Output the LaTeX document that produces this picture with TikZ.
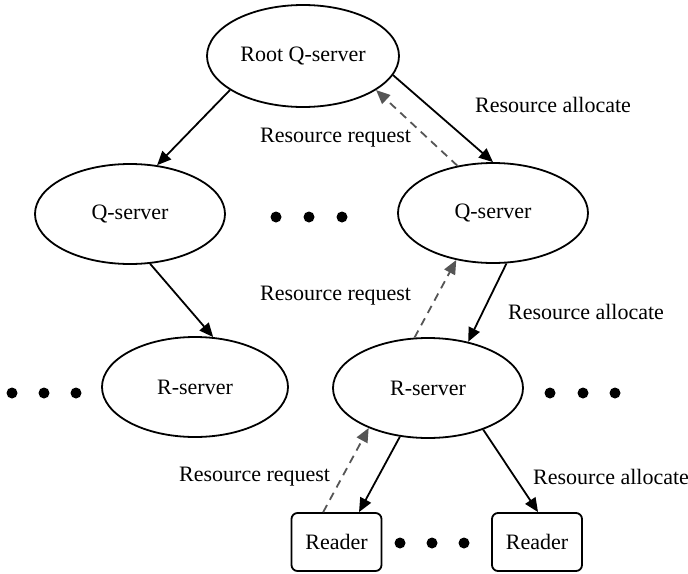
\documentclass[tikz,border=0pt]{standalone}
\usepackage{fontspec}
\setmainfont{Liberation Serif}
\usetikzlibrary{shapes.geometric,arrows.meta,calc}
\definecolor{reqgray}{HTML}{555555}
\begin{document}
\begin{tikzpicture}[x=1pt,y=-1pt,
  every node/.style={font=\fontsize{22}{26}\selectfont},
  srv/.style={ellipse,draw,line width=1.8pt,inner sep=0pt,minimum width=190pt,minimum height=100pt},
  rdr/.style={draw,rounded corners=6pt,line width=1.8pt,minimum width=90pt,minimum height=58pt,inner sep=0pt},
  alloc/.style={line width=1.8pt,-{Triangle[length=14pt,width=12pt]}},
  req/.style={line width=1.8pt,draw=reqgray,dash pattern=on 8pt off 6pt,-{Triangle[length=14pt,width=12pt,fill=reqgray]}},
  lbl/.style={anchor=west,inner sep=0pt},
  bigdot/.style={circle,fill,inner sep=0pt,minimum size=11pt}
]
\useasboundingbox (0,0) rectangle (688,573);

\node[srv,minimum width=192pt,minimum height=102pt] (root) at (303,56) {Root Q-server};
\node[srv] (q1) at (130,214) {Q-server};
\node[srv] (q2) at (493,213) {Q-server};
\node[srv,minimum width=186pt] (r1) at (195,387) {R-server};
\node[srv] (r2) at (428,388) {R-server};
\node[rdr] (rd1) at (336.5,542) {Reader};
\node[rdr] (rd2) at (537,542) {Reader};

% dots
\node[bigdot] (d1) at (276,217) {};
\node[bigdot] (d2) at (309,217) {};
\node[bigdot] (d3) at (342,217) {};
\node[bigdot] (d4) at (12,393) {};
\node[bigdot] (d5) at (44,393) {};
\node[bigdot] (d6) at (76,393) {};
\node[bigdot] (d7) at (550,393) {};
\node[bigdot] (d8) at (583,393) {};
\node[bigdot] (d9) at (615,393) {};
\node[bigdot] (d10) at (400,543) {};
\node[bigdot] (d11) at (432,543) {};
\node[bigdot] (d12) at (464,543) {};

% allocate arrows
\draw[alloc] (root.205) -- (q1.61);
\draw[alloc] (root.348) -- (q2.90);
\draw[alloc] (q1.292) -- (r1.70);
\draw[alloc] (q2.285) -- (r2.49);
\draw[alloc] (r2.240) -- (rd1.53);
\draw[alloc] (r2.323) -- (rd2.88);

% request arrows
\draw[req] (q2.127) -- (root.335);
\draw[req] (r2.105) -- (q2.232);
\draw[req] (rd1.114) -- (r2.214);

% labels
\node[lbl] (l1) at (475,105) {Resource allocate};
\node[lbl] (l2) at (260,138) {Resource request};
\node[lbl] (l3) at (260,296) {Resource request};
\node[lbl] (l4) at (508,312) {Resource allocate};
\node[lbl] (l5) at (179,477) {Resource request};
\node[lbl] (l6) at (533,477) {Resource allocate};
\end{tikzpicture}
\end{document}
